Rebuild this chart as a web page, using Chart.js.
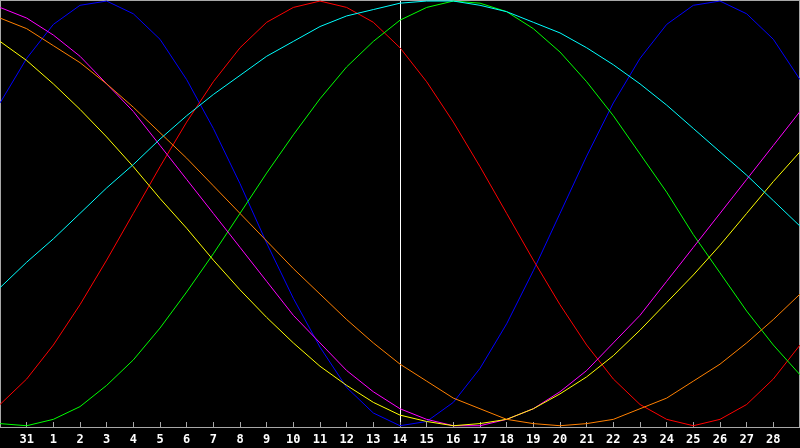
<!DOCTYPE html>
<html>
<head>
<meta charset="utf-8">
<script src="https://cdn.jsdelivr.net/npm/chart.js@4.4.0/dist/chart.umd.min.js"></script>
<style>
  html, body { margin: 0; padding: 0; background: #000; }
  #wrap { position: relative; width: 800px; height: 448px; }
</style>
</head>
<body>
<div id="wrap"><canvas id="c"></canvas></div>
<script>
// Day labels (first and last are at the chart edges and not shown)
const days = ['30','31','1','2','3','4','5','6','7','8','9','10','11','12','13','14','15','16','17','18','19','20','21','22','23','24','25','26','27','28','29'];

// Cycle values in percent (-100 .. 100), one per day
const physical     = [52,73,89,98,100,94,82,63,40,14,-14,-40,-63,-82,-94,-100,-98,-89,-73,-52,-27,0,27,52,73,89,98,100,94,82,63];
const emotional    = [-90,-78,-62,-43,-22,0,22,43,62,78,90,97,100,97,90,78,62,43,22,0,-22,-43,-62,-78,-90,-97,-100,-97,-90,-78,-62];
const intellectual = [-99,-100,-97,-91,-81,-69,-54,-37,-19,0,19,37,54,69,81,91,97,100,99,95,87,76,62,46,28,10,-10,-28,-46,-62,-76];
const intuitive    = [97,92,84,74,61,48,32,16,0,-16,-32,-48,-61,-74,-84,-92,-97,-100,-100,-97,-92,-84,-74,-61,-48,-32,-16,0,16,32,48];
const aesthetic    = [81,72,61,49,36,22,7,-7,-22,-36,-49,-61,-72,-81,-89,-95,-98,-100,-99,-97,-92,-85,-77,-67,-55,-42,-29,-15,0,15,29];
const awareness    = [92,87,79,71,61,50,38,26,13,0,-13,-26,-38,-50,-61,-71,-79,-87,-92,-97,-99,-100,-99,-97,-92,-87,-79,-71,-61,-50,-38];
const spiritual    = [-35,-23,-12,0,12,23,35,46,56,65,74,81,88,93,96,99,100,100,98,95,90,85,78,70,61,51,40,29,18,6,-6];

const todayIndex = 15; // day "14"
const GRAY = '#a8a8a8';

const series = [
  { label: 'Physical',     data: physical,     color: '#0000ff' },
  { label: 'Emotional',    data: emotional,    color: '#ff0000' },
  { label: 'Intellectual', data: intellectual, color: '#00ff00' },
  { label: 'Intuitive',    data: intuitive,    color: '#ff00ff' },
  { label: 'Aesthetic',    data: aesthetic,    color: '#ffff00' },
  { label: 'Awareness',    data: awareness,    color: '#ff8000' },
  { label: 'Spiritual',    data: spiritual,    color: '#00ffff' }
];

const framePlugin = {
  id: 'frame',
  beforeDatasetsDraw(chart) {
    const { ctx, chartArea } = chart;
    ctx.save();
    ctx.strokeStyle = GRAY;
    ctx.lineWidth = 1;
    ctx.beginPath();
    ctx.moveTo(chartArea.left, 0.5);
    ctx.lineTo(chartArea.right, 0.5);
    ctx.moveTo(chartArea.right - 0.5, chartArea.top);
    ctx.lineTo(chartArea.right - 0.5, chartArea.bottom);
    ctx.stroke();
    ctx.restore();
  }
};

new Chart(document.getElementById('c'), {
  type: 'line',
  data: {
    labels: days,
    datasets: series.map((s, i) => ({
      label: s.label,
      data: s.data,
      borderColor: s.color,
      backgroundColor: s.color,
      borderWidth: 1,
      pointRadius: 0,
      tension: 0,
      fill: false,
      order: series.length - i
    }))
  },
  options: {
    responsive: true,
    maintainAspectRatio: false,
    animation: false,
    devicePixelRatio: 1,
    layout: { padding: 0 },
    plugins: { legend: { display: false }, tooltip: { enabled: false } },
    scales: {
      x: {
        type: 'category',
        offset: false,
        border: { display: true, color: GRAY, width: 1 },
        grid: {
          drawOnChartArea: true,
          drawTicks: true,
          tickLength: -5,
          offset: false,
          color: (c) => c.index === todayIndex ? '#ffffff' : 'rgba(0,0,0,0)',
          tickColor: (c) => (c.index === 0 || c.index === days.length - 1) ? 'rgba(0,0,0,0)' : GRAY,
          lineWidth: 1
        },
        ticks: {
          autoSkip: false,
          maxRotation: 0,
          minRotation: 0,
          padding: 11,
          color: '#ffffff',
          font: { family: 'DejaVu Sans Mono', size: 12, weight: 'bold' },
          callback: function(value, index) {
            if (index === 0 || index === days.length - 1) return '';
            return days[index];
          }
        },
        afterFit: (scale) => {
          scale.height = 21;
          scale.paddingLeft = 0;
          scale.paddingRight = 0;
        }
      },
      y: {
        type: 'linear',
        min: -100.6,
        max: 100.5,
        border: { display: true, color: GRAY, width: 1 },
        grid: {
          drawTicks: false,
          color: (c) => (c.tick && c.tick.value === 0) ? '#ffffff' : 'rgba(0,0,0,0)',
          lineWidth: 1
        },
        ticks: { display: false, stepSize: 50 },
        afterFit: (scale) => {
          scale.width = 0;
          scale.paddingTop = 0;
          scale.paddingBottom = 0;
        }
      }
    }
  },
  plugins: [framePlugin]
});
</script>
</body>
</html>
